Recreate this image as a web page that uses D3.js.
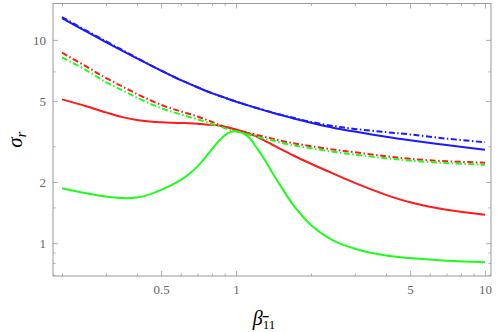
<!DOCTYPE html>
<html>
<head>
<meta charset="utf-8">
<script src="https://cdn.jsdelivr.net/npm/d3@7"></script>
<style>
  html, body { margin: 0; padding: 0; background: #fff; }
  svg { display: block; }
</style>
</head>
<body>
<svg id="chart" width="498" height="332"></svg>
<script>
// ---- data ----
const xValues = [0.2,0.25,0.3,0.35,0.4,0.45,0.5,0.55,0.6,0.65,0.7,0.75,0.8,0.85,0.9,0.95,1,1.05,1.1,1.15,1.2,1.3,1.4,1.5,1.7,2,2.5,3,4,5,7,10];

const blueSolid = [12.79,11.0,9.75,8.83,8.11,7.53,7.06,6.67,6.34,6.08,5.85,5.64,5.47,5.33,5.2,5.08,4.97,4.88,4.79,4.71,4.63,4.5,4.38,4.28,4.11,3.91,3.68,3.54,3.34,3.21,3.04,2.88];
const blueDash  = [12.95,11.12,9.85,8.9,8.15,7.55,7.07,6.67,6.34,6.08,5.85,5.64,5.47,5.33,5.2,5.08,4.97,4.88,4.79,4.71,4.64,4.51,4.4,4.3,4.14,3.95,3.76,3.65,3.52,3.43,3.27,3.14];
const redSolid  = [5.1,4.72,4.4,4.17,4.04,3.97,3.93,3.91,3.9,3.89,3.87,3.84,3.82,3.79,3.74,3.69,3.63,3.57,3.5,3.43,3.36,3.2,3.05,2.92,2.7,2.46,2.18,1.98,1.73,1.59,1.46,1.38];
const redDash   = [8.66,7.4,6.5,5.89,5.42,5.07,4.79,4.6,4.45,4.32,4.2,4.07,3.95,3.84,3.74,3.66,3.6,3.55,3.5,3.46,3.42,3.34,3.27,3.2,3.1,3.0,2.88,2.8,2.68,2.6,2.53,2.49];
const greenSolid= [1.865,1.761,1.697,1.667,1.679,1.738,1.829,1.929,2.048,2.197,2.387,2.628,2.893,3.168,3.39,3.528,3.55,3.5,3.4,3.22,2.99,2.59,2.22,1.94,1.54,1.23,1.02,0.94,0.87,0.845,0.82,0.806];
const greenDash = [8.2,7.1,6.2,5.65,5.2,4.87,4.62,4.44,4.3,4.18,4.07,3.96,3.86,3.77,3.68,3.6,3.55,3.5,3.45,3.4,3.36,3.27,3.2,3.13,3.03,2.93,2.81,2.73,2.62,2.55,2.48,2.43];

const xMajorTicks = [0.5, 1, 5, 10];
const xMinorTicks = [0.2,0.3,0.4,0.6,0.7,0.8,0.9,2,3,4,6,7,8,9];
const yMajorTicks = [1, 2, 5, 10];
const yMinorTicks = [0.7,0.8,0.9,1.5,3,7];

const seriesList = [
  {values: blueSolid,  color: "#1a1aff", dash: null},
  {values: blueDash,   color: "#1a1aff", dash: "6,2.5,1.5,2.5"},
  {values: redSolid,   color: "#ff1a1a", dash: null},
  {values: redDash,    color: "#ff1a1a", dash: "6,2.5,1.5,2.5"},
  {values: greenSolid, color: "#1aff1a", dash: null},
  {values: greenDash,  color: "#1aff1a", dash: "6,2.5,1.5,2.5"}
];

// ---- layout ----
const W = 498, H = 332;
const margin = {left: 53, right: 7, top: 3.5, bottom: 56};
const svg = d3.select("#chart");

const x = d3.scaleLog().domain([0.184, 10.57]).range([margin.left, W - margin.right]);
const y = d3.scaleLog().domain([0.69, 15.1]).range([H - margin.bottom, margin.top]);

const frameColor = "#999";
const labelColor = "#666";

svg.append("defs").append("clipPath").attr("id", "clip")
  .append("rect")
  .attr("x", margin.left).attr("y", margin.top)
  .attr("width", W - margin.left - margin.right)
  .attr("height", H - margin.top - margin.bottom);

function styleAxis(g) {
  g.select(".domain").remove();
  g.selectAll("line").attr("stroke", frameColor).attr("stroke-width", 0.8);
  g.selectAll("text").attr("fill", labelColor)
    .style("font-family", "'Liberation Serif', 'DejaVu Serif', serif")
    .style("font-size", "13px");
}
const yB = H - margin.bottom, yT = margin.top, xL = margin.left, xR = W - margin.right;

svg.append("g").attr("transform", `translate(0,${yB})`)
  .call(d3.axisBottom(x).tickValues(xMajorTicks).tickFormat(d3.format("")).tickSizeInner(-5).tickSizeOuter(0).tickPadding(9))
  .call(styleAxis);
svg.append("g").attr("transform", `translate(0,${yB})`)
  .call(d3.axisBottom(x).tickValues(xMinorTicks).tickFormat("").tickSizeInner(-2.5).tickSizeOuter(0))
  .call(styleAxis);
svg.append("g").attr("transform", `translate(0,${yT})`)
  .call(d3.axisTop(x).tickValues(xMajorTicks).tickFormat("").tickSizeInner(-5).tickSizeOuter(0))
  .call(styleAxis);
svg.append("g").attr("transform", `translate(0,${yT})`)
  .call(d3.axisTop(x).tickValues(xMinorTicks).tickFormat("").tickSizeInner(-2.5).tickSizeOuter(0))
  .call(styleAxis);
svg.append("g").attr("transform", `translate(${xL},0)`)
  .call(d3.axisLeft(y).tickValues(yMajorTicks).tickFormat(d3.format("")).tickSizeInner(-5).tickSizeOuter(0).tickPadding(7))
  .call(styleAxis);
svg.append("g").attr("transform", `translate(${xL},0)`)
  .call(d3.axisLeft(y).tickValues(yMinorTicks).tickFormat("").tickSizeInner(-2.5).tickSizeOuter(0))
  .call(styleAxis);
svg.append("g").attr("transform", `translate(${xR},0)`)
  .call(d3.axisRight(y).tickValues(yMajorTicks).tickFormat("").tickSizeInner(-5).tickSizeOuter(0))
  .call(styleAxis);
svg.append("g").attr("transform", `translate(${xR},0)`)
  .call(d3.axisRight(y).tickValues(yMinorTicks).tickFormat("").tickSizeInner(-2.5).tickSizeOuter(0))
  .call(styleAxis);

svg.append("rect")
  .attr("x", xL).attr("y", yT)
  .attr("width", xR - xL).attr("height", yB - yT)
  .attr("fill", "none").attr("stroke", frameColor).attr("stroke-width", 1);

const line = d3.line()
  .x(d => x(d[0])).y(d => y(d[1]))
  .curve(d3.curveCatmullRom.alpha(0.5));

const gLines = svg.append("g").attr("clip-path", "url(#clip)");
seriesList.forEach(s => {
  gLines.append("path")
    .datum(xValues.map((xv, i) => [xv, s.values[i]]))
    .attr("d", line)
    .attr("fill", "none")
    .attr("stroke", s.color)
    .attr("stroke-width", 2)
    .attr("stroke-linejoin", "round")
    .attr("stroke-dasharray", s.dash);
});

const xt = svg.append("text")
  .attr("x", (xL + xR) / 2 - 8).attr("y", 325)
  .attr("text-anchor", "middle")
  .style("font-family", "'Liberation Serif', 'DejaVu Serif', serif")
  .attr("fill", "#000");
xt.append("tspan").text("β").style("font-style", "italic").style("font-size", "20px");
xt.append("tspan").text("1").style("font-size", "13px").attr("dy", 4)
  .style("text-decoration", "overline");
xt.append("tspan").text("1").style("font-size", "13px");

const yt = svg.append("text")
  .attr("transform", `translate(22,${(yT + yB) / 2}) rotate(-90)`)
  .attr("text-anchor", "middle")
  .style("font-family", "'Liberation Serif', 'DejaVu Serif', serif")
  .attr("fill", "#000");
yt.append("tspan").text("σ").style("font-style", "italic").style("font-size", "21px");
yt.append("tspan").text("r").style("font-style", "italic").style("font-size", "14px").attr("dy", 4);
</script>
</body>
</html>
